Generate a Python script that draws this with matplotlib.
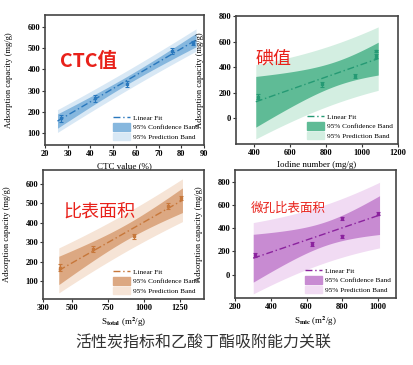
import numpy as np
import matplotlib
matplotlib.use('Agg')
import matplotlib.pyplot as plt
from matplotlib.patches import Patch
from matplotlib.lines import Line2D

plt.rcParams['font.family'] = ['Liberation Serif', 'DejaVu Serif']
plt.rcParams['mathtext.fontset'] = 'stix'
plt.rcParams['font.weight'] = 'bold'

# adsorption capacity of butyl acetate (mg/g), same samples in every panel
adsorption = [170, 265, 330, 485, 525]
adsorption_err = [18, 16, 15, 15, 10]

ctc_value = [27, 42, 56, 76, 85]
iodine_number = [420, 780, 960, 1080, 1080]
s_total = [420, 650, 930, 1170, 1260]
s_mic = [310, 630, 800, 800, 1000]

T95 = 3.182  # t(0.975, df=3)

panels = [
    dict(x=ctc_value, rect=(45, 15, 159, 130), xlim=(20, 90), ylim=(45, 655),
         xticks=[20, 30, 40, 50, 60, 70, 80, 90], yticks=[100, 200, 300, 400, 500, 600],
         xlabel='CTC value (%)', line='#2a78bd', conf='#86b7de', pred='#d8e8f5',
         tag='CTC值', tag_xy=(89, 61), tag_size=14, tag_weight='bold', pad=1.5),
    dict(x=iodine_number, rect=(236, 16, 162, 128), xlim=(300, 1200), ylim=(-200, 800),
         xticks=[400, 600, 800, 1000, 1200], yticks=[0, 200, 400, 600, 800],
         xlabel='Iodine number (mg/g)', line='#259a74', conf='#5fbb96', pred='#d3eee1',
         tag='碘值', tag_xy=(274, 59), tag_size=13, tag_weight='normal', pad=10),
    dict(x=s_total, rect=(43, 170, 161, 129), xlim=(300, 1420), ylim=(10, 670),
         xticks=[300, 500, 750, 1000, 1250], yticks=[100, 200, 300, 400, 500, 600],
         xlabel=r'S$_{\mathbf{total}}$ (m$^{\mathbf{2}}$/g)', line='#c7773a', conf='#dca882',
         pred='#f6e4d6', tag='比表面积', tag_xy=(99, 212), tag_size=13, tag_weight='normal',
         pad=10),
    dict(x=s_mic, rect=(235, 170, 161, 128), xlim=(200, 1100), ylim=(-200, 900),
         xticks=[200, 400, 600, 800, 1000], yticks=[0, 200, 400, 600, 800],
         xlabel=r'S$_{\mathbf{mic}}$ (m$^{\mathbf{2}}$/g)', line='#8b239e', conf='#c88bd2',
         pred='#f1dbf3', tag='微孔比表面积', tag_xy=(288, 208), tag_size=9,
         tag_weight='normal', pad=8),
]

W, H = 414, 365
fig = plt.figure(figsize=(W / 100, H / 100), dpi=100)

for p in panels:
    l, t, w, h = p['rect']
    ax = fig.add_axes([l / W, 1 - (t + h) / H, w / W, h / H])
    x = np.array(p['x'], float)
    y = np.array(adsorption, float)
    n = len(x)
    slope, icpt = np.polyfit(x, y, 1)
    s = np.sqrt(np.sum((y - (slope * x + icpt)) ** 2) / (n - 2))
    sxx = np.sum((x - x.mean()) ** 2)
    xs = np.linspace(x.min() - p['pad'], x.max() + p['pad'], 200)
    fit = slope * xs + icpt
    conf = T95 * s * np.sqrt(1 / n + (xs - x.mean()) ** 2 / sxx)
    pred = T95 * s * np.sqrt(1 + 1 / n + (xs - x.mean()) ** 2 / sxx)

    ax.fill_between(xs, fit - pred, fit + pred, color=p['pred'], lw=0)
    ax.fill_between(xs, fit - conf, fit + conf, color=p['conf'], lw=0)
    ax.plot(xs, fit, color=p['line'], lw=1.0, ls=(0, (5, 2, 1, 2)))
    ax.errorbar(x, y, yerr=adsorption_err, fmt='s', ms=2, color=p['line'],
                elinewidth=0.8, capsize=1.5, capthick=0.8)

    ax.set_xlim(p['xlim'])
    ax.set_ylim(p['ylim'])
    ax.set_xticks(p['xticks'])
    ax.set_yticks(p['yticks'])
    ax.tick_params(labelsize=6, length=2, width=0.8, pad=1.5, color='#333333')
    for sp in ax.spines.values():
        sp.set_linewidth(1.2)
        sp.set_color('#444444')
    ax.set_xlabel(p['xlabel'], fontsize=6.5, labelpad=3)
    ax.set_ylabel('Adsorption capacity (mg/g)', fontsize=6.2, labelpad=2)
    ax.yaxis.set_label_coords(-0.2, 0.5)

    handles = [Line2D([], [], color=p['line'], lw=1.0, ls=(0, (5, 2, 1, 2))),
               Patch(color=p['conf']), Patch(color=p['pred'])]
    ax.legend(handles, ['Linear Fit', '95% Confidence Band', '95% Prediction Band'],
              loc='lower right', frameon=False, prop={'size': 5.2, 'weight': 'normal'},
              handlelength=2.4, handleheight=1.2, labelspacing=0.25, borderaxespad=0.3,
              handletextpad=0.4)

    fig.text(p['tag_xy'][0] / W, 1 - p['tag_xy'][1] / H, p['tag'], color='#e8211a',
             fontsize=p['tag_size'], fontweight=p['tag_weight'], ha='center', va='center',
             family=['Noto Sans CJK SC', 'DejaVu Sans'])

fig.text(203 / W, 1 - 343 / H, '活性炭指标和乙酸丁酯吸附能力关联', fontsize=11.5,
         color='#333333', ha='center', va='center', fontweight='normal',
         family=['Noto Sans CJK SC', 'DejaVu Sans'])

fig.savefig('out.png', dpi=100)
